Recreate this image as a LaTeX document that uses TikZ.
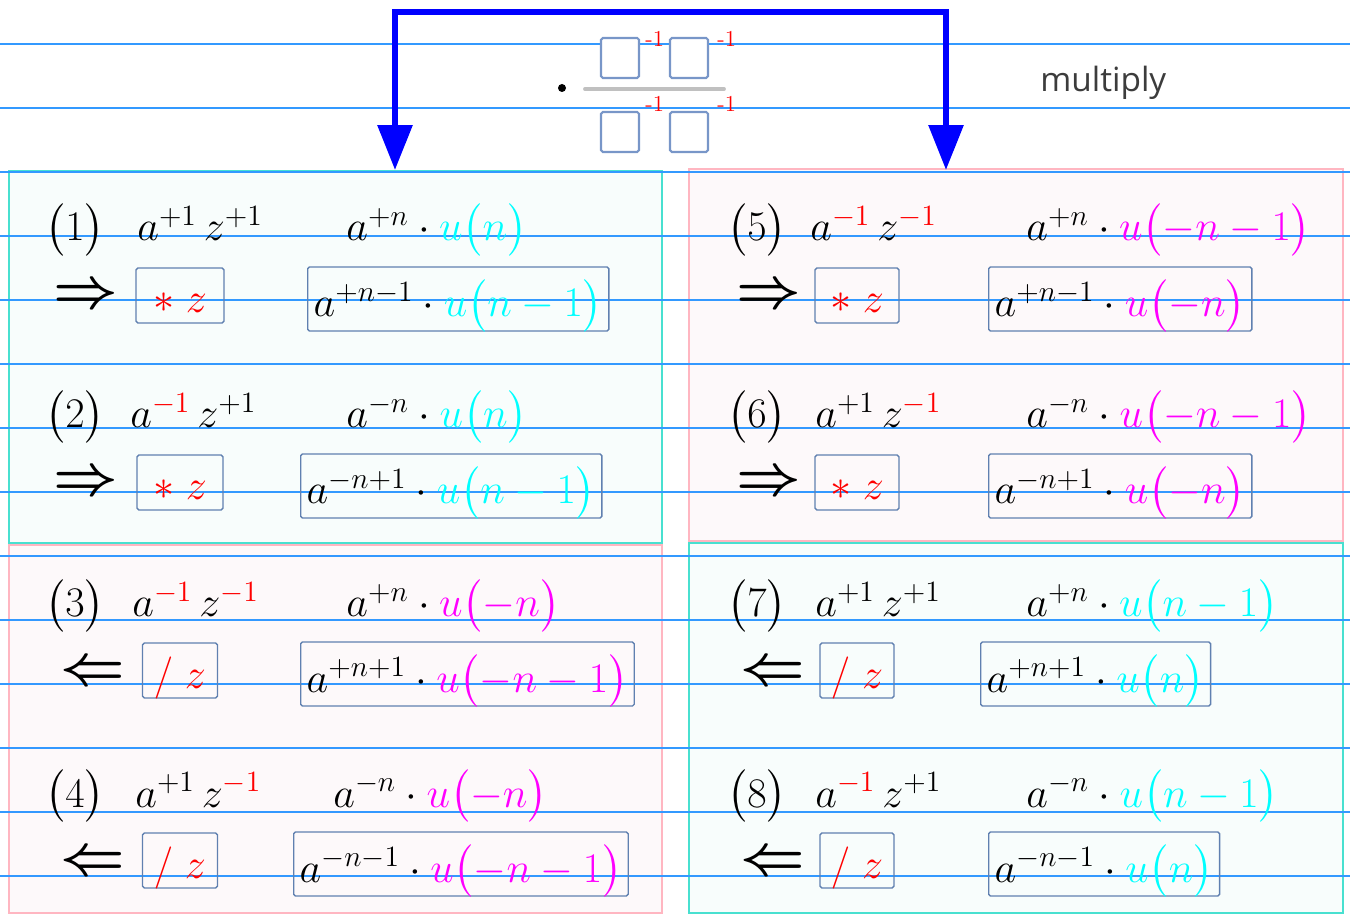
\RequirePackage{fix-cm}
\documentclass[tikz,border=0pt]{standalone}
\usepackage{amsmath}
\usepackage{fontspec}
\newfontfamily\labelfont{Open Sans}
\usetikzlibrary{arrows.meta,positioning}
\definecolor{rulecol}{RGB}{51,153,255}
\definecolor{tealline}{RGB}{72,224,208}
\definecolor{tealfill}{RGB}{248,253,252}
\definecolor{pinkline}{RGB}{255,182,193}
\definecolor{pinkfill}{RGB}{253,249,250}
\definecolor{boxline}{RGB}{96,128,176}
\definecolor{sqline}{RGB}{120,150,200}
\definecolor{barcol}{RGB}{192,192,192}
\definecolor{wordcol}{RGB}{60,60,60}
\definecolor{ucyan}{RGB}{0,255,255}
\definecolor{umag}{RGB}{255,0,255}

\begin{document}
\begin{tikzpicture}[x=0.02cm, y=-0.02cm,
  ruled/.style={draw=rulecol, line width=0.75pt},
  tealpanel/.style={draw=tealline, fill=tealfill, line width=1.2pt},
  pinkpanel/.style={draw=pinkline, fill=pinkfill, line width=1.2pt},
  txt/.style={anchor=base west, inner sep=0pt, font=\fontsize{24}{28}\selectfont},
  implies/.style={anchor=base west, inner sep=0pt, font=\fontsize{32}{36}\selectfont},
  opbox/.style={draw=boxline, line width=0.8pt, rounded corners=1pt, anchor=base,
    text height=0.9cm, text depth=0.2cm, inner sep=0pt, text=red,
    font=\fontsize{24}{28}\selectfont},
  termbox/.style={draw=boxline, line width=0.8pt, rounded corners=1pt, anchor=base west,
    text height=1.0cm, text depth=0.28cm, inner xsep=0.12cm, inner ysep=0pt,
    font=\fontsize{24}{28}\selectfont},
  sq/.style={draw=sqline, line width=1.2pt, fill=white, rounded corners=1pt,
    minimum width=0.76cm, minimum height=0.8cm, inner sep=0pt},
  minusone/.style={anchor=west, inner sep=0pt, text=red, font=\fontsize{13}{15}\selectfont},
  multarrow/.style={draw=blue, line width=3.4pt, <->, >={Triangle[length=0.9cm,width=0.68cm]}}
]
  \useasboundingbox (0,0) rectangle (1350,915);
  % panels
  \draw[tealpanel] (9,171) rectangle (662,543);
  \draw[pinkpanel] (9,545) rectangle (662,913);
  \draw[pinkpanel] (689,169) rectangle (1343,541);
  \draw[tealpanel] (689,543) rectangle (1343,913);
  % ruled paper
  \foreach \y in {44,108,...,876}
    \draw[ruled] (0,\y) -- (1350,\y);

  % multiply by the fraction
  \coordinate (tipL) at (395,170);
  \coordinate (tipR) at (946,170);
  \coordinate (bendL) at (395,12);
  \coordinate (bendR) at (946,12);
  \draw[multarrow] (tipL) -- (bendL) -- (bendR) -- (tipR);
  \fill (562,88) circle (0.08cm);
  \draw[barcol, line width=2.2pt, line cap=round] (585,89) -- (724,89);
  \node[sq] (sq1) at (620,58) {};
  \node[sq] (sq2) at (689,58) {};
  \node[sq] (sq3) at (620,132) {};
  \node[sq] (sq4) at (689,132) {};
  \node[minusone] (m1) at ([shift={(5,2)}]sq1.north east) {-1};
  \node[minusone] (m2) at ([shift={(8,2)}]sq2.north east) {-1};
  \node[minusone] (m3) at ([shift={(5,-7)}]sq3.north east) {-1};
  \node[minusone] (m4) at ([shift={(8,-7)}]sq4.north east) {-1};
  \node[anchor=base west, inner sep=0pt, text=wordcol,
    font=\labelfont\fontsize{19}{22}\selectfont] (mult) at (1040,92) {multiply};

  % (1)
  \node[txt] (num1) at (45,241) {$\bigl(1\bigr)$};
  \node[txt] (pow1) at (137,241) {$a^{+1}\,z^{+1}$};
  \node[txt] (rhs1) at (346,241) {$a^{+n}\cdot\textcolor{ucyan}{u\bigl(n\bigr)}$};
  \node[implies] (dir1) at (53,308) {$\boldsymbol{\Rightarrow}$};
  \node[opbox, minimum width=1.76cm] (op1) at (180,313) {$\ast\;z$};
  \node[termbox] (res1) at (307,317) {$a^{+n-1}\cdot\textcolor{ucyan}{u\bigl(n-1\bigr)}$};
  % (2)
  \node[txt] (num2) at (45,428) {$\bigl(2\bigr)$};
  \node[txt] (pow2) at (130,428) {$a^{\color{red}-1}\,z^{+1}$};
  \node[txt] (rhs2) at (346,428) {$a^{-n}\cdot\textcolor{ucyan}{u\bigl(n\bigr)}$};
  \node[implies] (dir2) at (53,495) {$\boldsymbol{\Rightarrow}$};
  \node[opbox, minimum width=1.72cm] (op2) at (180,500) {$\ast\;z$};
  \node[termbox] (res2) at (300,504) {$a^{-n+1}\cdot\textcolor{ucyan}{u\bigl(n-1\bigr)}$};
  % (3)
  \node[txt] (num3) at (45,617) {$\bigl(3\bigr)$};
  \node[txt] (pow3) at (132,617) {$a^{\color{red}-1}\,z^{\color{red}-1}$};
  \node[txt] (rhs3) at (346,617) {$a^{+n}\cdot\textcolor{umag}{u\bigl(-n\bigr)}$};
  \node[implies] (dir3) at (60,684) {$\boldsymbol{\Leftarrow}$};
  \node[opbox, minimum width=1.5cm] (op3) at (180,688) {$/\;z$};
  \node[termbox] (res3) at (300,692) {$a^{+n+1}\cdot\textcolor{umag}{u\bigl(-n-1\bigr)}$};
  % (4)
  \node[txt] (num4) at (45,807) {$\bigl(4\bigr)$};
  \node[txt] (pow4) at (135,807) {$a^{+1}\,z^{\color{red}-1}$};
  \node[txt] (rhs4) at (333,807) {$a^{-n}\cdot\textcolor{umag}{u\bigl(-n\bigr)}$};
  \node[implies] (dir4) at (60,874) {$\boldsymbol{\Leftarrow}$};
  \node[opbox, minimum width=1.5cm] (op4) at (180,878) {$/\;z$};
  \node[termbox] (res4) at (293,882) {$a^{-n-1}\cdot\textcolor{umag}{u\bigl(-n-1\bigr)}$};

  % (5)
  \node[txt] (num5) at (727,241) {$\bigl(5\bigr)$};
  \node[txt] (pow5) at (810,241) {$a^{\color{red}-1}\,z^{\color{red}-1}$};
  \node[txt] (rhs5) at (1026,241) {$a^{+n}\cdot\textcolor{umag}{u\bigl(-n-1\bigr)}$};
  \node[implies] (dir5) at (736,308) {$\boldsymbol{\Rightarrow}$};
  \node[opbox, minimum width=1.68cm] (op5) at (857,313) {$\ast\;z$};
  \node[termbox] (res5) at (988,317) {$a^{+n-1}\cdot\textcolor{umag}{u\bigl(-n\bigr)}$};
  % (6)
  \node[txt] (num6) at (727,428) {$\bigl(6\bigr)$};
  \node[txt] (pow6) at (815,428) {$a^{+1}\,z^{\color{red}-1}$};
  \node[txt] (rhs6) at (1026,428) {$a^{-n}\cdot\textcolor{umag}{u\bigl(-n-1\bigr)}$};
  \node[implies] (dir6) at (736,495) {$\boldsymbol{\Rightarrow}$};
  \node[opbox, minimum width=1.68cm] (op6) at (857,500) {$\ast\;z$};
  \node[termbox] (res6) at (988,504) {$a^{-n+1}\cdot\textcolor{umag}{u\bigl(-n\bigr)}$};
  % (7)
  \node[txt] (num7) at (727,617) {$\bigl(7\bigr)$};
  \node[txt] (pow7) at (815,617) {$a^{+1}\,z^{+1}$};
  \node[txt] (rhs7) at (1026,617) {$a^{+n}\cdot\textcolor{ucyan}{u\bigl(n-1\bigr)}$};
  \node[implies] (dir7) at (740,684) {$\boldsymbol{\Leftarrow}$};
  \node[opbox, minimum width=1.48cm] (op7) at (857,688) {$/\;z$};
  \node[termbox] (res7) at (980,692) {$a^{+n+1}\cdot\textcolor{ucyan}{u\bigl(n\bigr)}$};
  % (8)
  \node[txt] (num8) at (727,807) {$\bigl(8\bigr)$};
  \node[txt] (pow8) at (815,807) {$a^{\color{red}-1}\,z^{+1}$};
  \node[txt] (rhs8) at (1026,807) {$a^{-n}\cdot\textcolor{ucyan}{u\bigl(n-1\bigr)}$};
  \node[implies] (dir8) at (740,874) {$\boldsymbol{\Leftarrow}$};
  \node[opbox, minimum width=1.48cm] (op8) at (857,878) {$/\;z$};
  \node[termbox] (res8) at (988,882) {$a^{-n-1}\cdot\textcolor{ucyan}{u\bigl(n\bigr)}$};
\end{tikzpicture}
\end{document}
